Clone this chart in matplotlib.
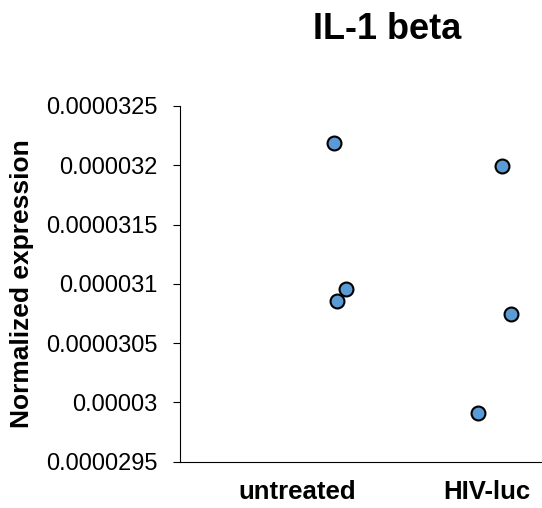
import matplotlib
matplotlib.use("Agg")
import matplotlib.pyplot as plt
from matplotlib.ticker import FixedLocator, FixedFormatter

plt.rcParams['font.family'] = ['Liberation Sans', 'DejaVu Sans']

groups = ['untreated', 'HIV-luc']
group_pos = [1, 2]

# x position of each point (jittered around its group) and its value
untreated_x = [1.193, 1.255, 1.210]
untreated_y = [0.00003219, 0.00003096, 0.000030855]
hiv_x = [2.082, 2.127, 1.954]
hiv_y = [0.00003199, 0.000030748, 0.00002991]

yticks = [0.0000295, 0.00003, 0.0000305, 0.000031, 0.0000315, 0.000032, 0.0000325]
ytick_labels = ['0.0000295', '0.00003', '0.0000305', '0.000031', '0.0000315', '0.000032', '0.0000325']

fig = plt.figure(figsize=(5.42, 5.08), dpi=100)
ax = fig.add_axes([180 / 542, (508 - 461.7) / 508, (542 - 180) / 542, (461.7 - 106) / 508])

for xs, ys in [(untreated_x, untreated_y), (hiv_x, hiv_y)]:
    ax.plot(xs, ys, linestyle='none', marker='o', markersize=10,
            markerfacecolor='#5B9BD5', markeredgecolor='black', markeredgewidth=1.5,
            clip_on=False, zorder=3)

ax.set_ylim(0.0000295, 0.0000325)
ax.set_xlim(0.379, 2.292)
ax.yaxis.set_major_locator(FixedLocator(yticks))
ax.yaxis.set_major_formatter(FixedFormatter(ytick_labels))
ax.set_xticks(group_pos)
ax.set_xticklabels(groups, fontweight='bold', fontsize=18.5)

ax.tick_params(axis='y', direction='out', length=5, width=0.8, pad=11, labelsize=17)
ax.tick_params(axis='x', length=0, pad=13)

for side in ['top', 'right']:
    ax.spines[side].set_visible(False)
for side in ['left', 'bottom']:
    ax.spines[side].set_linewidth(0.8)
    ax.spines[side].set_color('black')

fig.text(386.7 / 542, (508 - 39) / 508, 'IL-1 beta', ha='center', va='baseline',
         fontsize=26, fontweight='bold')
fig.text(22 / 542, (508 - 284) / 508, 'Normalized expression', rotation=90,
         ha='center', va='center', fontsize=19, fontweight='bold')

fig.savefig('out.png', dpi=100)
